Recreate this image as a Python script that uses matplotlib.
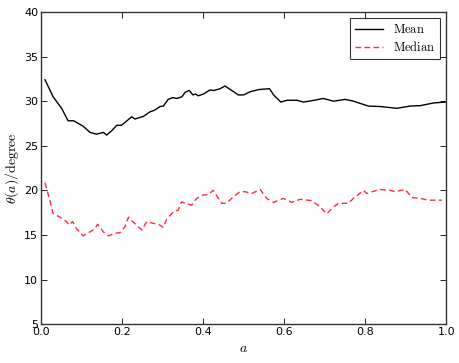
import numpy as np
import matplotlib
matplotlib.use('Agg')
import matplotlib.pyplot as plt

# Mean angle vs a
mean_a = [0.010, 0.030, 0.051, 0.067, 0.081, 0.104, 0.121, 0.137, 0.154, 0.162,
          0.175, 0.187, 0.199, 0.224, 0.232, 0.253, 0.269, 0.281, 0.294, 0.302,
          0.314, 0.325, 0.335, 0.348, 0.356, 0.366, 0.375, 0.382, 0.388, 0.401,
          0.417, 0.427, 0.442, 0.454, 0.471, 0.487, 0.500, 0.516, 0.537, 0.564,
          0.574, 0.592, 0.607, 0.631, 0.648, 0.668, 0.697, 0.722, 0.751, 0.771,
          0.808, 0.837, 0.878, 0.911, 0.936, 0.969, 0.998]
mean_theta = [32.4, 30.5, 29.2, 27.8, 27.8, 27.2, 26.5, 26.3, 26.5, 26.2,
              26.7, 27.3, 27.3, 28.25, 28.0, 28.3, 28.8, 29.0, 29.4, 29.45,
              30.2, 30.4, 30.3, 30.5, 31.0, 31.2, 30.7, 30.8, 30.6, 30.8,
              31.25, 31.2, 31.4, 31.7, 31.2, 30.7, 30.7, 31.05, 31.3, 31.4,
              30.7, 29.9, 30.1, 30.1, 29.9, 30.05, 30.3, 30.0, 30.2, 30.0,
              29.45, 29.4, 29.2, 29.45, 29.5, 29.8, 29.9]

# Median angle vs a
median_a = [0.010, 0.022, 0.030, 0.047, 0.063, 0.070, 0.078, 0.088, 0.104, 0.121,
            0.133, 0.140, 0.154, 0.166, 0.183, 0.195, 0.207, 0.216, 0.224, 0.236,
            0.249, 0.261, 0.277, 0.290, 0.302, 0.310, 0.327, 0.339, 0.347, 0.360,
            0.372, 0.384, 0.401, 0.413, 0.425, 0.446, 0.458, 0.475, 0.491, 0.504,
            0.520, 0.541, 0.557, 0.574, 0.598, 0.619, 0.640, 0.668, 0.689, 0.705,
            0.722, 0.734, 0.759, 0.771, 0.796, 0.804, 0.817, 0.837, 0.862, 0.874,
            0.899, 0.915, 0.936, 0.956, 0.989]
median_theta = [20.85, 18.9, 17.4, 17.0, 16.5, 16.1, 16.5, 15.7, 14.9, 15.35,
                15.7, 16.2, 15.35, 14.9, 15.2, 15.25, 15.9, 17.0, 16.6, 16.1,
                15.55, 16.5, 16.3, 16.2, 15.85, 16.75, 17.6, 17.8, 18.7, 18.5,
                18.35, 19.1, 19.5, 19.5, 20.0, 18.55, 18.55, 19.3, 19.85, 19.85,
                19.65, 20.1, 19.1, 18.65, 19.1, 18.65, 19.0, 18.85, 18.15, 17.35,
                18.15, 18.55, 18.55, 19.1, 20.0, 19.65, 19.85, 20.1, 20.0, 19.85,
                20.1, 19.2, 19.1, 18.9, 18.9]

plt.rcParams['mathtext.fontset'] = 'cm'
plt.rcParams['xtick.direction'] = 'in'
plt.rcParams['ytick.direction'] = 'in'

fig = plt.figure(figsize=(4.6, 3.63), dpi=100)
ax = fig.add_axes([0.089, 0.107, 0.881, 0.860])

ax.plot(mean_a, mean_theta, '-', color='black', linewidth=1.0,
        label=r'$\mathrm{Mean}$')
ax.plot(median_a, median_theta, '--', color='#ff2a3a', linewidth=1.0,
        dashes=(4, 2.5), label=r'$\mathrm{Median}$')

ax.set_xlim(0, 1.0)
ax.set_ylim(5, 40)
ax.set_xticks(np.arange(0, 1.01, 0.2))
ax.set_yticks(np.arange(5, 41, 5))
ax.tick_params(top=True, right=True, labelsize=8, length=4, width=0.6, pad=2)
for s in ax.spines.values():
    s.set_linewidth(1.0)
    s.set_color('#333333')

ax.set_xlabel(r'$a$', fontsize=10, labelpad=3)
ax.set_ylabel(r'$\theta(a)/\mathrm{degree}$', fontsize=10, labelpad=2)

leg = ax.legend(loc='upper right', fontsize=9, fancybox=False,
                handlelength=2.2, borderpad=0.4, labelspacing=0.3)
leg.get_frame().set_edgecolor('black')
leg.get_frame().set_linewidth(0.8)

fig.savefig('out.png', dpi=100)
